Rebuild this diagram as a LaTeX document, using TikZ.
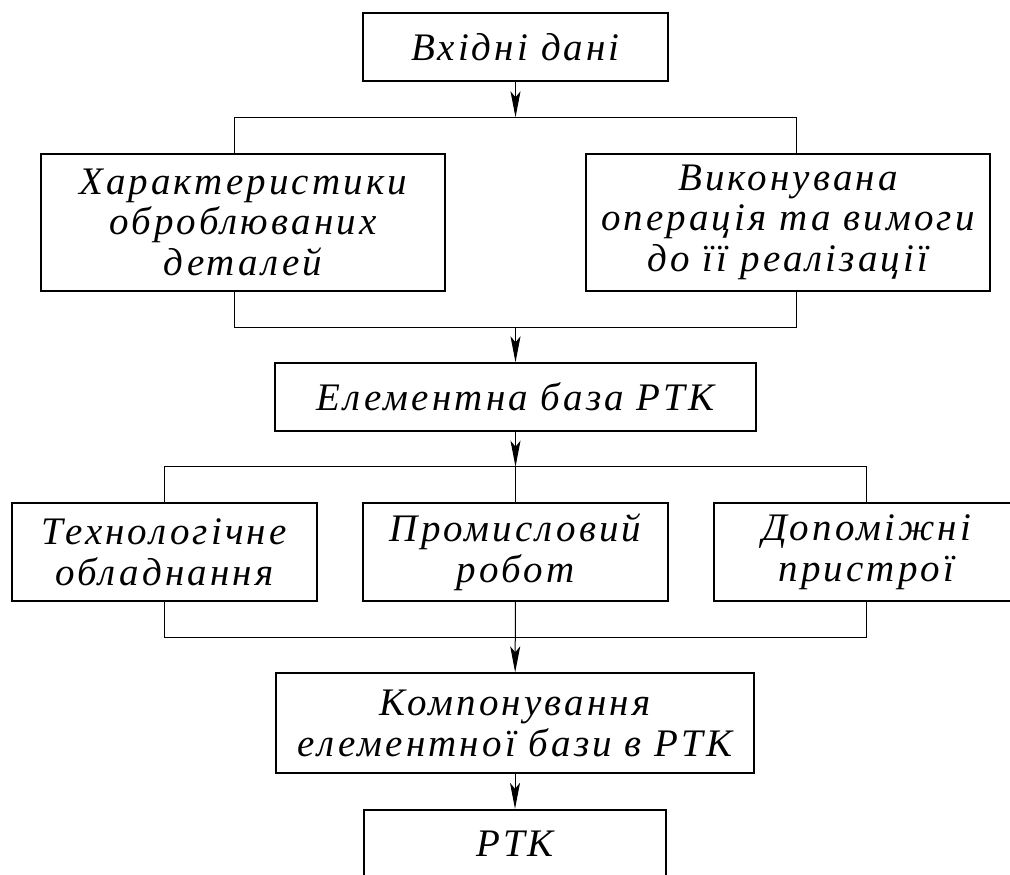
\documentclass[tikz,border=0pt]{standalone}
\usepackage{fontspec}
\setmainfont{Liberation Serif}[LetterSpace=8]
\usetikzlibrary{arrows.meta}
\begin{document}
\begin{tikzpicture}[x=0.5pt,y=-0.5pt,>={Stealth[length=13pt,width=5pt,inset=3pt]},
    blok/.style={draw,line width=1pt,align=center,inner sep=0pt,font=\itshape\fontsize{19.5}{20.3}\selectfont},
    lin/.style={line width=0.5pt}]
        \useasboundingbox(0,0)rectangle(1010,874);
        \node[blok,minimum width=152.8pt,minimum height=34pt](vhid)at(515.5,46.7){Вхідні дані};
        \node[blok,minimum width=202pt,minimum height=68.2pt](har)at(243,222.3){Характеристики\\оброблюваних\\деталей};
        \node[blok,minimum width=202.2pt,minimum height=68.2pt](vyk)at(787.9,222.3){Виконувана\\операція та вимоги\\до її реалізації};
        \node[blok,minimum width=240.5pt,minimum height=33.9pt](elem)at(515.5,397.2){Елементна база РТК};
        \node[blok,minimum width=152.5pt,minimum height=48.7pt](tech)at(164.2,552){Технологічне\\обладнання};
        \node[blok,minimum width=152.5pt,minimum height=48.7pt](prom)at(515.5,552){Промисловий\\робот};
        \node[blok,minimum width=152.5pt,minimum height=48.7pt](dop)at(866.5,552){Допоміжні\\пристрої};
        \node[blok,minimum width=239.2pt,minimum height=50pt](komp)at(515,723.3){Компонування\\елементної бази в РТК};
        \node[blok,minimum width=151pt,minimum height=34pt](rtk)at(515,843.8){РТК};
        % branch lines
        \coordinate(h1l)at(234.3,117.3);\coordinate(h1)at(515.5,117.3);\coordinate(h1r)at(796.7,117.3);
        \coordinate(h2l)at(234.3,327.3);\coordinate(h2)at(515.5,327.3);\coordinate(h2r)at(796.7,327.3);
        \coordinate(h3)at(515.5,466.7);\coordinate(h4)at(515.5,637.3);
        \draw[lin,->](vhid)--(h1);
        \draw[lin](har.north-|h1l)|-(h1r)--(vyk.north-|h1r);
        \draw[lin](har.south-|h2l)|-(h2r)--(vyk.south-|h2r);
        \draw[lin,->](h2)--(elem);
        \draw[lin,->](elem)--(h3);
        \draw[lin](tech)--(tech|-h3)--(dop|-h3)--(dop);
        \draw[lin](h3)--(prom);
        \draw[lin](tech)--(tech|-h4)--(dop|-h4)--(dop);
        \draw[lin,->](prom)--(komp);
        \draw[lin,->](komp)--(rtk);
\end{tikzpicture}
\end{document}
